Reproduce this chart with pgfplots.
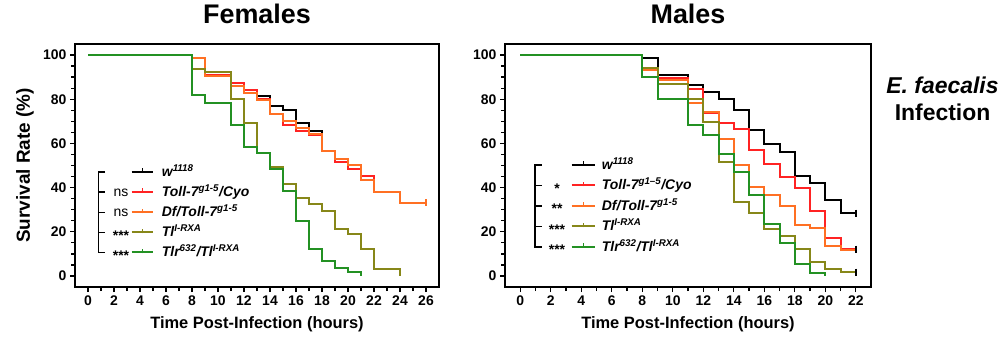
\documentclass[border=0pt]{standalone}
\usepackage{fontspec}
\setmainfont{Liberation Sans}
\usepackage{pgfplots}
\pgfplotsset{compat=1.18}
\definecolor{cRed}{RGB}{255,35,35}
\definecolor{cOrange}{RGB}{255,112,35}
\definecolor{cOlive}{RGB}{135,135,25}
\definecolor{cGreen}{RGB}{35,145,35}
\pgfplotsset{
  surv/.style={
    scale only axis, height=243bp,
    ymin=-5, ymax=105, ytick={0,20,...,100},
    minor y tick num=3, minor x tick num=1,
    tick align=outside, xtick pos=bottom, ytick pos=left,
    axis line style={line width=1.7bp},
    major tick length=5bp, minor tick length=4bp,
    every tick/.style={black, line width=1.3bp},
    tick label style={font=\fontsize{14}{14}\selectfont\bfseries},
    /pgf/number format/assume math mode=true,
    every axis plot/.append style={line width=2bp, const plot},
    title style={at={([yshift=14.5bp]axis description cs:0.5,1)}, anchor=base, font=\fontsize{27}{27}\selectfont\bfseries},
    xlabel style={at={([yshift=-41bp]axis description cs:0.5,0)}, anchor=base, font=\fontsize{16.5}{16.5}\selectfont\bfseries},
    ylabel style={at={([xshift=-50bp]axis description cs:0,0.5)}, rotate=0, anchor=center, font=\fontsize{19}{19}\selectfont\bfseries},
  },
  cens/.style={only marks, mark=|, mark size=3.5bp, mark options={line width=1.5bp}},
}
\newcommand{\legrow}[8]{% x0 x1 y color signx sign textx text
  \draw[#4, line width=2bp] (#1bp,#3bp) -- (#2bp,#3bp);
  \draw[#4, line width=1.3bp] ({(#1+#2)/2*1bp},#3bp-1bp) -- ({(#1+#2)/2*1bp},#3bp+3.5bp);
  \node[anchor=base, inner sep=0pt, font=\fontsize{14}{14}\selectfont] at (#5bp,#3bp-4.5bp) {#6};
  \node[anchor=base west, inner sep=0pt, font=\fontsize{14}{14}\selectfont\bfseries\itshape] at (#7bp,#3bp-4.5bp) {#8};
}
\begin{document}
\begin{tikzpicture}
\path[use as bounding box] (0,0) rectangle (1003bp,341bp);
% ---------------- Females ----------------
\begin{axis}[surv, at={(75bp,54bp)}, anchor=south west, width=364bp,
  xmin=-1, xmax=27, xtick={0,2,...,26},
  title={Females}, xlabel={Time Post-Infection (hours)}, ylabel={Survival Rate (\%)}]
\addplot[black] coordinates {(0,100)(8,98.5)(9,91)(11,87.5)(12,84.3)(13,81.3)(14,76.8)(15,75.2)(16,69.2)(17,65.8)(18,56.5)(19,51.5)(20,48.5)(21,45.4)(22,38)(24,33)(26,33)};
\addplot[cRed] coordinates {(0,100)(8,98.5)(9,91)(11,87.5)(12,84.3)(13,80)(14,73.5)(15,68.5)(16,65.6)(17,64)(18,56.5)(19,51.5)(20,48.5)(21,45.4)(22,38)(24,33)(26,33)};
\addplot[cOrange] coordinates {(0,100)(8,98.5)(9,90.6)(11,85.8)(12,82.6)(13,79.8)(14,73.2)(15,70.2)(16,66.9)(17,64.2)(18,56.6)(19,53.1)(20,50)(21,43.5)(22,37.9)(24,33.1)(26,33.1)};
\addplot[cOrange, cens] coordinates {(26,33.1)};
\addplot[cOlive] coordinates {(0,100)(8,93.6)(9,92.1)(11,80)(12,69.2)(13,55.6)(14,49.5)(15,41.8)(16,35.5)(17,32.6)(18,29.6)(19,21.3)(20,18.8)(21,12.4)(22,3.3)(24,0)};
\addplot[cGreen] coordinates {(0,100)(8,81.7)(9,78.3)(11,68.3)(12,58.5)(13,55.6)(14,48.5)(15,38.6)(16,25.1)(17,12.1)(18,6.7)(19,3.7)(20,2)(21,0)};
\end{axis}
% ---------------- Males ----------------
\begin{axis}[surv, at={(505bp,54bp)}, anchor=south west, width=366bp,
  xmin=-1, xmax=23, xtick={0,2,...,22},
  title={Males}, xlabel={Time Post-Infection (hours)}]
\addplot[black] coordinates {(0,100)(8,98.5)(9,91)(11,86.3)(12,83.2)(13,79.9)(14,75.3)(15,66)(16,59.6)(17,56.2)(18,45.2)(19,42.2)(20,34.3)(21,28.4)(22,28.4)};
\addplot[black, cens] coordinates {(22,28.4)};
\addplot[cRed] coordinates {(0,100)(8,93.6)(9,89.6)(11,84.7)(12,73.9)(13,69.3)(14,66.3)(15,57.2)(16,50.8)(17,44.8)(18,40)(19,29.6)(20,17.1)(21,12.3)(22,12.3)};
\addplot[cOrange] coordinates {(0,100)(8,93.3)(9,88.8)(11,78.4)(12,74.1)(13,61.9)(14,50.1)(15,40.1)(16,36.5)(17,31.8)(18,23.1)(19,21.6)(20,13.4)(21,11.7)(22,11.7)};
\addplot[black, cens] coordinates {(22,12.2)};
\addplot[cOlive] coordinates {(0,100)(8,94.1)(9,86.7)(11,80.2)(12,69.7)(13,51.6)(14,33.6)(15,28.7)(16,21.3)(17,18.2)(18,12.3)(19,6.3)(20,3.3)(21,1.7)(22,1.7)};
\addplot[black, cens] coordinates {(22,1.7)};
\addplot[cGreen] coordinates {(0,100)(8,90.2)(9,80.3)(11,68.5)(12,63.6)(13,55.3)(14,47)(15,36.6)(16,23.5)(17,14.9)(18,5.2)(19,1.5)(20,0)};
\end{axis}
% Females legend
\draw[black, line width=1.3bp] (105bp,169bp) -- (98.3bp,169bp) -- (98.3bp,88.7bp) -- (105bp,88.7bp);
\foreach \yy in {149,128.7,108.7} \draw[black, line width=1.3bp] (98.3bp,\yy bp) -- (105bp,\yy bp);
\legrow{131.7}{153.3}{169}{black}{121}{}{161.7}{w\textsuperscript{1118}}
\legrow{131.7}{153.3}{149}{cRed}{121}{ns}{161.7}{Toll-7\textsuperscript{g1-5}/Cyo}
\legrow{131.7}{153.3}{128.7}{cOrange}{121}{ns}{161.7}{Df/Toll-7\textsuperscript{g1-5}}
\legrow{131.7}{153.3}{108.7}{cOlive}{121}{\raisebox{-3.5bp}{\bfseries ***}}{161.7}{Tl\textsuperscript{I-RXA}}
\legrow{131.7}{153.3}{88.7}{cGreen}{121}{\raisebox{-3.5bp}{\bfseries ***}}{161.7}{Tlr\textsuperscript{632}/Tl\textsuperscript{I-RXA}}
% Males legend
\draw[black, line width=1.3bp] (541.7bp,176bp) -- (535bp,176bp) -- (535bp,94bp) -- (541.7bp,94bp);
\foreach \yy in {155.5,135,114.5} \draw[black, line width=1.3bp] (535bp,\yy bp) -- (541.7bp,\yy bp);
\legrow{571.7}{595}{176}{black}{557}{}{601.7}{w\textsuperscript{1118}}
\legrow{571.7}{595}{155.5}{cRed}{557}{\raisebox{-3.5bp}{\bfseries *}}{601.7}{Toll-7\textsuperscript{g1–5}/Cyo}
\legrow{571.7}{595}{135}{cOrange}{557}{\raisebox{-3.5bp}{\bfseries **}}{601.7}{Df/Toll-7\textsuperscript{g1-5}}
\legrow{571.7}{595}{114.5}{cOlive}{557}{\raisebox{-3.5bp}{\bfseries ***}}{601.7}{Tl\textsuperscript{I-RXA}}
\legrow{571.7}{595}{94}{cGreen}{557}{\raisebox{-3.5bp}{\bfseries ***}}{601.7}{Tlr\textsuperscript{632}/Tl\textsuperscript{I-RXA}}
% Side label
\node[anchor=base, inner sep=0pt, font=\fontsize{23}{23}\selectfont\bfseries\itshape] at (942.5bp,247bp) {E. faecalis};
\node[anchor=base, inner sep=0pt, font=\fontsize{23}{23}\selectfont\bfseries] at (942.5bp,220.3bp) {Infection};
\end{tikzpicture}
\end{document}
